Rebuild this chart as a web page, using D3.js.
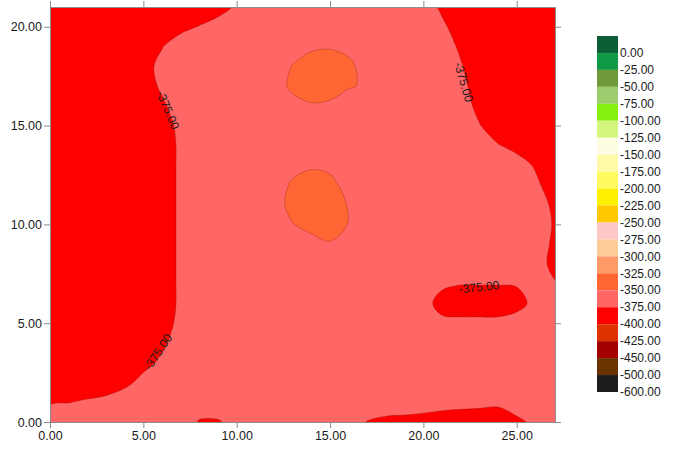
<!DOCTYPE html>
<meta charset="UTF-8">
<svg width="673" height="450"></svg>
<style>
body { margin: 0; background: #fff; }
svg { display: block; background: #fff; font-family: "Liberation Sans", Arial, sans-serif; }
.axis path, .axis line { stroke: #8c8c8c; }
.axis text { font-size: 12.5px; fill: #1a1a1a; font-family: "Liberation Sans", Arial, sans-serif; }
.iso { fill: none; stroke: #6b1a0a; stroke-opacity: .35; stroke-width: .8px; }
.clabel { font-size: 12px; fill: #1a1a1a; }
.legend text { font-size: 12px; fill: #1a1a1a; }
</style>
<script src="https://cdn.jsdelivr.net/npm/d3@7"></script>
<script>
// sample grid (data units); rows listed top (y = 21) to bottom (y = 0)
var gridX = [0,1,2,3,4,5,6,7,8,9,10,11,12,13,14,15,16,17,18,19,20,21,22,23,24,25,26,27,28];
var gridY = [21,20,19,18,17,16,15,14,13,12,11,10,9,8,7,6,5,4,3,2,1,0];

var zRows = [
  [-390,-390,-390,-390,-390,-390,-390,-386,-382,-378,-374,-370,-366,-362,-362,-362,-362,-362,-362,-363,-370,-377,-384,-390,-390,-390,-390,-390,-390],
  [-390,-390,-390,-390,-388,-385,-382,-378,-374.5,-372,-368,-365,-362,-362,-362,-362,-362,-362,-362,-362,-366,-373,-380,-387,-390,-390,-390,-390,-390],
  [-390,-390,-390,-390,-386,-381,-375.5,-369.5,-364,-362,-362,-362,-362,-359,-355,-353,-358,-362,-362,-362,-362,-369,-377,-384,-390,-390,-390,-390,-390],
  [-390,-390,-390,-390,-387,-379,-372,-364,-362,-362,-362,-362,-362,-349,-335,-332,-343,-363,-362,-362,-362,-367,-374,-382,-390,-390,-390,-390,-390],
  [-390,-390,-390,-390,-389,-381,-373,-365,-362,-362,-362,-362,-361,-345,-339,-340,-348,-353,-362,-362,-362,-364,-372,-380,-388,-390,-390,-390,-390],
  [-390,-390,-390,-390,-390,-384,-377,-369,-362,-362,-362,-362,-362,-358,-352,-354,-362,-362,-362,-362,-362,-362,-370,-378,-385,-390,-390,-390,-390],
  [-390,-390,-390,-390,-390,-388,-380,-372,-364,-362,-362,-362,-362,-362,-362,-362,-362,-362,-362,-362,-362,-362,-368,-374.5,-381,-388,-390,-390,-390],
  [-390,-390,-390,-390,-390,-389,-381,-373,-365,-362,-362,-362,-362,-362,-362,-362,-362,-362,-362,-362,-362,-362,-368,-371,-374.5,-378,-381,-384,-388],
  [-390,-390,-390,-390,-390,-389,-381,-373,-365,-362,-362,-362,-362,-361,-355,-356,-362,-362,-362,-362,-362,-362,-362,-362,-366,-371,-376,-381,-386],
  [-390,-390,-390,-390,-390,-389,-381,-373,-365,-362,-362,-362,-368,-345,-333,-343,-359,-362,-362,-362,-362,-362,-362,-362,-362,-366,-373,-380,-387],
  [-390,-390,-390,-390,-390,-389,-381,-373,-365,-362,-362,-362,-366,-338,-330,-335,-352,-362,-362,-362,-362,-362,-362,-362,-362,-362,-370,-377,-384],
  [-390,-390,-390,-390,-390,-389,-381,-373,-365,-362,-362,-362,-362,-351,-339,-339,-351,-362,-362,-362,-362,-362,-362,-362,-362,-362,-368,-376,-384],
  [-390,-390,-390,-390,-390,-389,-381,-373,-365,-362,-362,-362,-362,-362,-362,-352,-362,-362,-362,-362,-362,-362,-362,-362,-362,-362,-369,-377,-385],
  [-390,-390,-390,-390,-390,-389,-381,-373,-365,-362,-362,-362,-362,-362,-362,-362,-362,-362,-362,-362,-362,-362,-362,-362,-362,-362,-370,-378,-386],
  [-390,-390,-390,-390,-390,-389,-381,-373,-365,-362,-362,-362,-362,-362,-362,-362,-362,-362,-362,-362,-367,-372,-374,-374,-374,-373,-365,-374,-378],
  [-390,-390,-390,-390,-390,-389,-381,-373,-365,-362,-362,-362,-362,-362,-362,-362,-362,-362,-362,-362,-369,-381,-388,-388,-388,-385,-367,-362,-362],
  [-390,-390,-390,-390,-390,-388,-380,-372,-364,-362,-362,-362,-362,-362,-362,-362,-362,-362,-362,-362,-365,-371,-369,-369,-369,-362,-362,-362,-362],
  [-390,-390,-390,-390,-390,-384,-377,-370,-362,-362,-362,-362,-362,-362,-362,-362,-362,-362,-362,-362,-362,-362,-362,-362,-362,-362,-362,-362,-362],
  [-390,-390,-390,-389,-384,-378,-373,-367,-362,-362,-362,-362,-362,-362,-362,-362,-362,-362,-362,-362,-362,-362,-362,-362,-362,-362,-362,-362,-362],
  [-390,-390,-388,-383,-377.5,-372,-367,-362,-362,-362,-362,-362,-362,-362,-362,-362,-362,-362,-362,-362,-362,-362,-362,-362,-362,-362,-362,-362,-362],
  [-377,-375.5,-372.5,-371,-369,-364,-362,-362,-362,-362,-362,-362,-362,-362,-362,-362,-362,-362,-362,-362,-362,-366,-368,-368,-368,-368,-364,-362,-362],
  [-362,-362,-362,-362,-362,-362,-362,-362,-377,-377,-368,-362,-362,-362,-362,-362,-362,-376,-380.5,-382,-385.5,-387,-387.5,-391,-397,-378,-372,-362,-362]
];

var legendLabels = [0,-25,-50,-75,-100,-125,-150,-175,-200,-225,-250,-275,-300,-325,-350,-375,-400,-425,-450,-500,-600];
var legendColors = ["#0b5e36","#0f9a45","#6e9a3a","#9dcb6d","#86f00e","#d4f67c","#fffde1","#fffaa8","#fffb60","#fff200",
                    "#ffc800","#ffc8c8","#ffcc99","#ff9a66","#ff6633","#ff6666","#ff0000","#dd3300","#a30000","#6b3300","#1c1c1c"];

var xTicks = [0,5,10,15,20,25];
var yTicks = [0,5,10,15,20];
var isoLevels = [-375,-350];
// contour label spots: [x, y, angle]
var labelSpots = [[6.32,15.79,67],[22.17,17.2,74],[22.98,6.83,-6],[5.78,3.54,-56]];

var svg = d3.select("svg");
var margin = {left: 50, top: 7, right: 555, bottom: 422};

var x = d3.scaleLinear().domain([0, 27.05]).range([margin.left, margin.right]);
var y = d3.scaleLinear().domain([0, 21]).range([margin.bottom, margin.top]);

// contour grid coords -> data coords (sample i sits at i + 0.5)
var cx = d3.scaleLinear().domain([0.5, gridX.length - 0.5]).range([gridX[0], gridX[gridX.length - 1]]);
var cy = d3.scaleLinear().domain([0.5, gridY.length - 0.5]).range([gridY[0], gridY[gridY.length - 1]]);

svg.append("clipPath").attr("id", "plotClip")
  .append("rect")
  .attr("x", x(0)).attr("y", y(21))
  .attr("width", x(27.05) - x(0)).attr("height", y(0) - y(21));

var values = zRows.flat();
var zMin = d3.min(values);
var asc = legendLabels.slice().reverse();
var base = asc.filter(t => t <= zMin).pop();
var levels = asc.filter(t => t >= base);

var contours = d3.contours()
  .size([gridX.length, gridY.length])
  .thresholds(levels)(values);

var ringLine = d3.line()
  .x(p => x(cx(p[0])))
  .y(p => y(cy(p[1])))
  .curve(d3.curveCatmullRomClosed.alpha(0.5));

function contourPath(c) {
  return c.coordinates.map(poly => poly.map(ring => ringLine(ring.slice(0, -1))).join("")).join("");
}

var plot = svg.append("g").attr("clip-path", "url(#plotClip)");

plot.selectAll("path.band")
  .data(contours.filter(c => c.coordinates.length))
  .enter().append("path")
  .attr("class", "band")
  .attr("d", contourPath)
  .attr("fill-rule", "evenodd")
  .attr("fill", c => legendColors[legendLabels.indexOf(c.value)]);

plot.selectAll("path.iso")
  .data(contours.filter(c => isoLevels.indexOf(c.value) >= 0))
  .enter().append("path")
  .attr("class", "iso")
  .attr("d", contourPath);

plot.selectAll("text.clabel")
  .data(labelSpots)
  .enter().append("text")
  .attr("class", "clabel")
  .attr("text-anchor", "middle")
  .attr("dy", "0.35em")
  .attr("transform", d => "translate(" + x(d[0]) + "," + y(d[1]) + ") rotate(" + d[2] + ")")
  .text("-375.00");

// axes
var fmt = v => v.toFixed(2);
svg.append("g").attr("class", "axis")
  .attr("transform", "translate(0," + y(0) + ")")
  .call(d3.axisBottom(x).tickValues(xTicks).tickFormat(fmt).tickSize(6).tickSizeOuter(0));
svg.append("g").attr("class", "axis")
  .attr("transform", "translate(0," + y(21) + ")")
  .call(d3.axisTop(x).tickValues(xTicks).tickFormat("").tickSize(6).tickSizeOuter(0));
svg.append("g").attr("class", "axis")
  .attr("transform", "translate(" + x(0) + ",0)")
  .call(d3.axisLeft(y).tickValues(yTicks).tickFormat(fmt).tickSize(6).tickPadding(2).tickSizeOuter(0));
svg.append("g").attr("class", "axis")
  .attr("transform", "translate(" + x(27.05) + ",0)")
  .call(d3.axisRight(y).tickValues(yTicks).tickFormat("").tickSize(6).tickSizeOuter(0));

// legend
var ly = d3.scaleLinear().domain([0, legendColors.length]).range([36, 392]);
var legend = svg.append("g").attr("class", "legend");
legend.selectAll("rect")
  .data(legendColors)
  .enter().append("rect")
  .attr("x", 597)
  .attr("y", (d, i) => ly(i))
  .attr("width", 21)
  .attr("height", (d, i) => ly(i + 1) - ly(i))
  .attr("fill", d => d);
legend.selectAll("text")
  .data(legendLabels)
  .enter().append("text")
  .attr("x", 620)
  .attr("y", (d, i) => ly(i + 1))
  .attr("dy", "0.35em")
  .text(fmt);
</script>
